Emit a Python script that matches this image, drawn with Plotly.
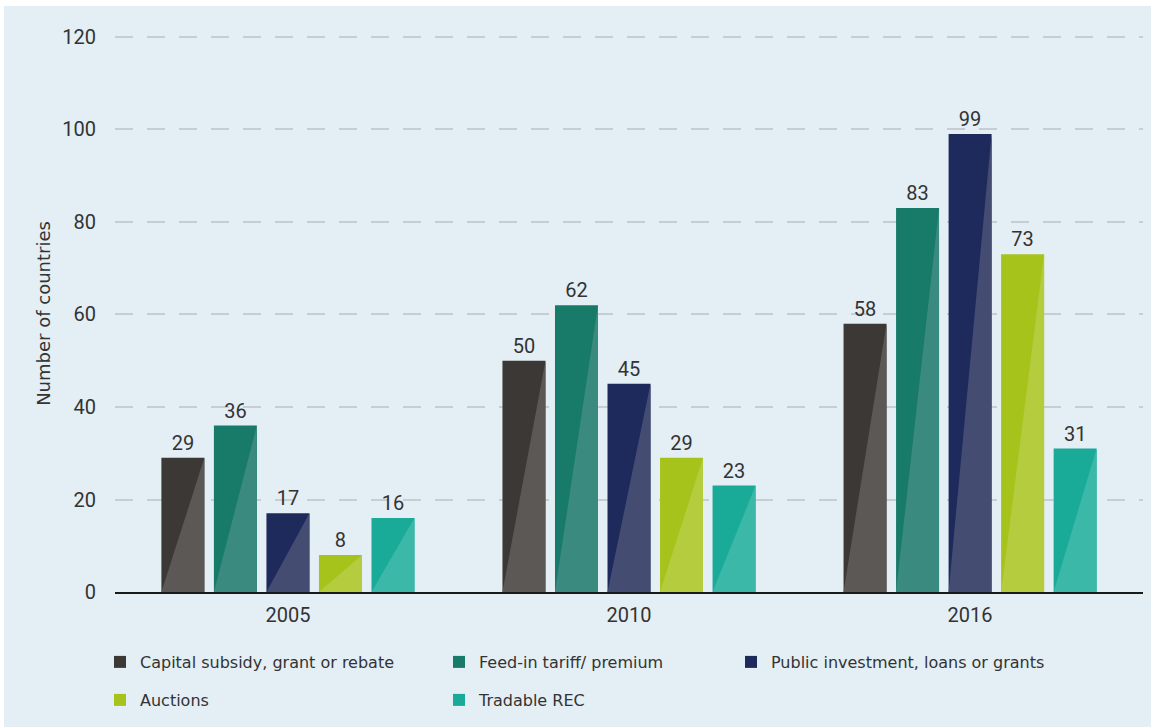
import plotly.graph_objects as go

# Policy counts by year
years = ["2005", "2010", "2016"]
series_names = [
    "Capital subsidy, grant or rebate",
    "Feed-in tariff/ premium",
    "Public investment, loans or grants",
    "Auctions",
    "Tradable REC",
]
capital_subsidy = [29, 50, 58]
feed_in_tariff = [36, 62, 83]
public_investment = [17, 45, 99]
auctions = [8, 29, 73]
tradable_rec = [16, 23, 31]
series_values = [capital_subsidy, feed_in_tariff, public_investment, auctions, tradable_rec]
y_ticks = [0, 20, 40, 60, 80, 100, 120]

# Styling
dark_colors = ["#3b3835", "#187a69", "#1f2a5c", "#a6c31b", "#1aaa98"]
light_colors = ["#5b5856", "#3b8a80", "#444c71", "#b4cc3d", "#3bb8a8"]
bg = "#e4eef5"
text_color = "#333333"
num_font = "Roboto"
label_font = "DejaVu Sans"

bar_width = 0.126
pitch = 0.154
group_x = list(range(len(years)))

# Plot area in pixels
W, H = 1151, 727
m_l, m_r, m_t, m_b = 115, 8, 35, 135
plot_w = W - m_l - m_r
plot_h = H - m_t - m_b
y_max = 120.43

fig = go.Figure()

for i, (name, vals) in enumerate(zip(series_names, series_values)):
    off = (i - 2) * pitch
    xs = [g + off for g in group_x]
    fig.add_trace(go.Bar(
        x=xs, y=vals, width=bar_width, name=name,
        marker=dict(color=dark_colors[i], line=dict(width=0)),
        text=[str(v) for v in vals], textposition="outside",
        textfont=dict(size=20, color=text_color, family=num_font),
        cliponaxis=False, showlegend=True, legend="legend" if i == 0 else f"legend{i + 1}",
    ))

# Lighter lower-right triangle on each bar
for i, vals in enumerate(series_values):
    off = (i - 2) * pitch
    tx, ty = [], []
    for g, v in zip(group_x, vals):
        xl = g + off - bar_width / 2
        xr = g + off + bar_width / 2
        tx += [xl, xr, xr, xl, None]
        ty += [0, 0, v, 0, None]
    fig.add_trace(go.Scatter(
        x=tx, y=ty, mode="lines", fill="toself", fillcolor=light_colors[i],
        line=dict(width=0), hoverinfo="skip", showlegend=False,
    ))

# Legends laid out in three columns, two rows
legend_px = [(100, 662), (439, 662), (731, 662), (100, 700), (439, 700)]
legend_layouts = {}
for i, (px, py) in enumerate(legend_px):
    key = "legend" if i == 0 else f"legend{i + 1}"
    legend_layouts[key] = dict(
        x=(px - m_l) / plot_w, y=(H - m_b - py) / plot_h,
        xanchor="left", yanchor="middle", orientation="v",
        bgcolor="rgba(0,0,0,0)", borderwidth=0,
        font=dict(size=16, color=text_color, family=label_font),
        itemwidth=30,
    )

# Light panel with thin white border at top and left
fig.add_shape(
    type="rect", xref="paper", yref="paper", layer="below",
    x0=(4 - m_l) / plot_w, x1=(W - m_l) / plot_w,
    y0=(H - m_b - H) / plot_h, y1=(H - m_b - 6) / plot_h,
    fillcolor=bg, line=dict(width=0),
)

fig.update_layout(
    width=W, height=H,
    margin=dict(l=m_l, r=m_r, t=m_t, b=m_b),
    paper_bgcolor="white", plot_bgcolor=bg,
    barmode="overlay",
    font=dict(family=num_font, color=text_color),
    xaxis=dict(
        range=[-0.507, 2.507], tickvals=group_x, ticktext=years,
        showgrid=False, zeroline=False, ticks="",
        showline=True, linecolor="#1a1a1a", linewidth=2,
        ticklabelstandoff=4,
        tickfont=dict(size=20, color=text_color, family=num_font),
    ),
    yaxis=dict(
        range=[0, y_max], tickvals=y_ticks, showgrid=True,
        gridcolor="#c6cdd3", gridwidth=1.5, griddash="18px,14px",
        zeroline=False, showline=False, ticks="", ticklabelstandoff=18,
        tickfont=dict(size=20, color=text_color, family=num_font),
        title=dict(text="Number of countries", standoff=6,
                   font=dict(size=18, color=text_color, family=label_font)),
    ),
    **legend_layouts,
)

fig.write_html("out.html")
